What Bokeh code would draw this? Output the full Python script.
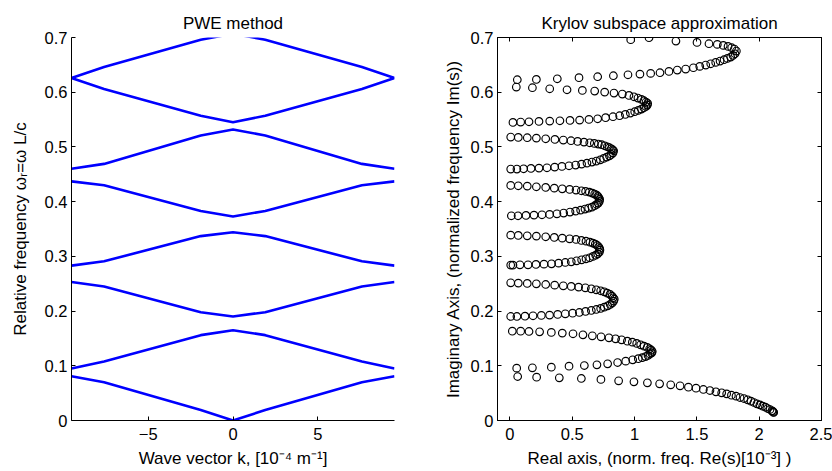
from bokeh.plotting import figure
from bokeh.layouts import row
from bokeh.models import FixedTicker, LinearAxis, Range1d
from bokeh.embed import file_html
from bokeh.resources import INLINE

FONT = "Liberation Sans"

# ---------------- PWE method (left) ----------------
k_vals = [-9.52, -7.6, -1.9, 0.0, 1.9, 7.6, 9.52]
band1 = [0.081, 0.070, 0.019, 0.000, 0.019, 0.070, 0.081]
band2 = [0.095, 0.108, 0.156, 0.165, 0.156, 0.108, 0.095]
band3 = [0.253, 0.245, 0.198, 0.190, 0.198, 0.245, 0.253]
band4 = [0.283, 0.291, 0.337, 0.344, 0.337, 0.291, 0.283]
band5 = [0.437, 0.430, 0.383, 0.373, 0.383, 0.430, 0.437]
band6 = [0.460, 0.469, 0.521, 0.532, 0.521, 0.469, 0.460]
band7 = [0.626, 0.606, 0.557, 0.545, 0.557, 0.606, 0.626]
band8 = [0.626, 0.646, 0.696, 0.707, 0.696, 0.646, 0.626]

left_x_ticks = [-5, 0, 5]
left_x_labels = ["\u22125", "0", "5"]
y_ticks = [0, 0.1, 0.2, 0.3, 0.4, 0.5, 0.6, 0.7]
y_labels = ["0", "0.1", "0.2", "0.3", "0.4", "0.5", "0.6", "0.7"]

# ---------------- Krylov subspace approximation (right) ----------------
kry_re_1 = [0.062, 0.214, 0.396, 0.573, 0.730, 0.872, 0.995, 1.103, 1.201, 1.290, 1.365,
            1.432, 1.493, 1.552, 1.605, 1.653, 1.699, 1.739, 1.777, 1.814, 1.846, 1.878,
            1.908, 1.934, 1.958, 1.982, 2.006, 2.028, 2.050, 2.068, 2.087, 2.103, 2.110,
            2.114, 2.116]
kry_im_1 = [0.0804, 0.0792, 0.0780, 0.0768, 0.0750, 0.0725, 0.0707, 0.0689, 0.0670, 0.0652,
            0.0634, 0.0609, 0.0591, 0.0567, 0.0548, 0.0524, 0.0506, 0.0487, 0.0463, 0.0445,
            0.0420, 0.0402, 0.0378, 0.0353, 0.0329, 0.0305, 0.0286, 0.0262, 0.0244, 0.0219,
            0.0201, 0.0177, 0.0165, 0.0152, 0.0148]

kry_re_2 = [0.019, 0.086, 0.153, 0.238, 0.332, 0.420, 0.506, 0.586, 0.661, 0.731, 0.795,
            0.848, 0.896, 0.942, 0.982, 1.017, 1.049, 1.076, 1.102, 1.121, 1.134, 1.142,
            1.137, 1.124, 1.108, 1.088, 1.062, 1.030, 0.985, 0.929, 0.864, 0.784, 0.698,
            0.597, 0.474, 0.332, 0.180, 0.054]
kry_im_2 = [0.1633, 0.1633, 0.1627, 0.1621, 0.1609, 0.1597, 0.1585, 0.1566, 0.1548, 0.1530,
            0.1511, 0.1493, 0.1475, 0.1450, 0.1432, 0.1408, 0.1383, 0.1359, 0.1335, 0.1310,
            0.1286, 0.1261, 0.1235, 0.1215, 0.1190, 0.1168, 0.1148, 0.1130, 0.1109, 0.1085,
            0.1060, 0.1036, 0.1018, 0.1005, 0.0993, 0.0975, 0.0963, 0.0957]

kry_re_3 = [0.006, 0.067, 0.139, 0.212, 0.287, 0.359, 0.428, 0.492, 0.551, 0.605, 0.653,
            0.693, 0.728, 0.757, 0.781, 0.803, 0.819, 0.829, 0.837,
            0.832, 0.821, 0.805, 0.784, 0.757, 0.728, 0.693, 0.653, 0.607, 0.557, 0.503,
            0.444, 0.383, 0.318, 0.252, 0.185, 0.121, 0.056, 0.006]
kry_im_3 = [0.2517, 0.2511, 0.2505, 0.2498, 0.2486, 0.2474, 0.2462, 0.2450, 0.2438, 0.2425,
            0.2407, 0.2389, 0.2371, 0.2352, 0.2328, 0.2304, 0.2273, 0.2243, 0.2218,
            0.2182, 0.2151, 0.2121, 0.2096, 0.2072, 0.2048, 0.2029, 0.2011, 0.1993, 0.1974,
            0.1962, 0.1950, 0.1938, 0.1926, 0.1920, 0.1914, 0.1907, 0.1901, 0.1901]

kry_re_4 = [0.006, 0.067, 0.139, 0.212, 0.287, 0.356, 0.420, 0.479, 0.530, 0.573, 0.610,
            0.642, 0.666, 0.685, 0.701, 0.712, 0.720, 0.722,
            0.717, 0.704, 0.688, 0.666, 0.640, 0.610, 0.575, 0.535, 0.492, 0.444, 0.391,
            0.334, 0.273, 0.209, 0.145, 0.080, 0.024, 0.006]
kry_im_4 = [0.3388, 0.3382, 0.3376, 0.3370, 0.3358, 0.3346, 0.3333, 0.3321, 0.3309, 0.3291,
            0.3278, 0.3260, 0.3242, 0.3224, 0.3199, 0.3175, 0.3144, 0.3114,
            0.3077, 0.3047, 0.3022, 0.2998, 0.2974, 0.2955, 0.2937, 0.2919, 0.2900, 0.2888,
            0.2876, 0.2864, 0.2858, 0.2852, 0.2846, 0.2846, 0.2840, 0.2840]

kry_re_5 = [0.006, 0.067, 0.139, 0.212, 0.287, 0.356, 0.420, 0.479, 0.530, 0.573, 0.607,
            0.637, 0.661, 0.680, 0.696, 0.706, 0.714, 0.720,
            0.717, 0.709, 0.696, 0.680, 0.658, 0.631, 0.602, 0.567, 0.527, 0.482, 0.431,
            0.377, 0.318, 0.257, 0.193, 0.129, 0.065, 0.011]
kry_im_5 = [0.4296, 0.4290, 0.4284, 0.4272, 0.4260, 0.4247, 0.4235, 0.4223, 0.4211, 0.4199,
            0.4186, 0.4174, 0.4156, 0.4138, 0.4120, 0.4095, 0.4071, 0.4040,
            0.4004, 0.3973, 0.3949, 0.3925, 0.3900, 0.3882, 0.3864, 0.3845, 0.3827, 0.3809,
            0.3791, 0.3778, 0.3766, 0.3760, 0.3754, 0.3748, 0.3742, 0.3742]

kry_re_6 = [0.006, 0.067, 0.139, 0.212, 0.287, 0.361, 0.428, 0.490, 0.543, 0.594, 0.640,
            0.677, 0.709, 0.736, 0.760, 0.781, 0.798, 0.814, 0.824, 0.832,
            0.827, 0.814, 0.798, 0.776, 0.752, 0.725, 0.693, 0.658, 0.618, 0.575, 0.527,
            0.474, 0.417, 0.359, 0.297, 0.233, 0.169, 0.110, 0.056, 0.006]
kry_im_6 = [0.5180, 0.5174, 0.5168, 0.5161, 0.5149, 0.5137, 0.5125, 0.5113, 0.5101, 0.5088,
            0.5076, 0.5064, 0.5052, 0.5040, 0.5021, 0.5003, 0.4985, 0.4966, 0.4948, 0.4930,
            0.4893, 0.4863, 0.4838, 0.4814, 0.4790, 0.4765, 0.4741, 0.4723, 0.4704, 0.4686,
            0.4668, 0.4656, 0.4643, 0.4631, 0.4619, 0.4613, 0.4607, 0.4601, 0.4595, 0.4595]

kry_re_7 = [0.051, 0.180, 0.319, 0.458, 0.581, 0.680, 0.760, 0.835, 0.902, 0.955, 0.995,
            1.027, 1.055, 1.075, 1.092, 1.105, 1.102, 1.092, 1.075, 1.055, 1.030, 1.001,
            0.966, 0.926, 0.880, 0.827, 0.768, 0.704, 0.634, 0.559, 0.482, 0.401, 0.319,
            0.233, 0.153, 0.086, 0.024]
kry_im_7 = [0.6094, 0.6082, 0.6063, 0.6045, 0.6033, 0.6021, 0.6002, 0.5984, 0.5966, 0.5941,
            0.5917, 0.5893, 0.5868, 0.5844, 0.5820, 0.5795, 0.5765, 0.5740, 0.5716, 0.5692,
            0.5667, 0.5643, 0.5619, 0.5594, 0.5570, 0.5552, 0.5534, 0.5515, 0.5503, 0.5490,
            0.5484, 0.5478, 0.5472, 0.5466, 0.5460, 0.5454, 0.5448]

kry_re_8 = [0.059, 0.212, 0.380, 0.554, 0.704, 0.830, 0.947, 1.043, 1.129, 1.204, 1.276,
            1.343, 1.410, 1.472, 1.523, 1.571, 1.611, 1.651, 1.686, 1.718, 1.745, 1.771,
            1.790, 1.806, 1.817, 1.801, 1.779, 1.750, 1.712, 1.664, 1.597, 1.501, 1.332,
            1.116, 0.969]
kry_im_8 = [0.6228, 0.6234, 0.6246, 0.6265, 0.6283, 0.6301, 0.6319, 0.6331, 0.6344, 0.6356,
            0.6380, 0.6405, 0.6423, 0.6447, 0.6472, 0.6496, 0.6520, 0.6545, 0.6569, 0.6594,
            0.6618, 0.6642, 0.6673, 0.6703, 0.6752, 0.6789, 0.6813, 0.6837, 0.6856, 0.6874,
            0.6886, 0.6910, 0.6935, 0.6996, 0.6959]

right_x_ticks = [0, 0.5, 1, 1.5, 2, 2.5]
right_x_labels = ["0", "0.5", "1", "1.5", "2", "2.5"]


def style_axis(ax, ticks, labels, show_labels=True):
    ax.ticker = FixedTicker(ticks=ticks)
    ax.major_tick_in = 4
    ax.major_tick_out = 0
    ax.minor_tick_line_color = None
    ax.axis_line_color = "black"
    ax.axis_line_width = 1
    ax.major_tick_line_color = "black"
    ax.axis_label_text_font = FONT
    ax.axis_label_text_font_size = "17px"
    ax.axis_label_text_font_style = "normal"
    ax.axis_label_text_color = "black"
    ax.major_label_text_font = FONT
    if show_labels:
        ax.major_label_overrides = dict(zip(ticks, labels))
        ax.major_label_text_font_size = "16.5px"
        ax.major_label_text_color = "black"
    else:
        ax.major_label_text_font_size = "0px"
        ax.major_label_text_color = None
        ax.major_label_text_alpha = 0
        ax.major_label_standoff = 0
        ax.axis_label_standoff = 0


def style_title(p, standoff):
    p.title.align = "center"
    p.title.text_font = FONT
    p.title.text_font_size = "17px"
    p.title.text_font_style = "normal"
    p.title.text_color = "black"
    p.title.standoff = standoff


p1 = figure(frame_width=323, frame_height=383,
            x_range=Range1d(-9.52, 9.52), y_range=Range1d(0, 0.7),
            output_backend="svg", toolbar_location=None, title="PWE method",
            min_border_left=71, min_border_right=22, min_border_top=37, min_border_bottom=51)
style_title(p1, 10)
p1.outline_line_color = None
p1.xgrid.visible = False
p1.ygrid.visible = False
p1.background_fill_color = "white"
p1.border_fill_color = "white"

for band in [band1, band2, band3, band4, band5, band6, band7, band8]:
    p1.line(k_vals, band, line_color="#0000ff", line_width=2.6)

style_axis(p1.xaxis[0], left_x_ticks, left_x_labels)
style_axis(p1.yaxis[0], y_ticks, y_labels)
p1.xaxis[0].axis_label = "Wave vector k, [10\u207b\u2074 m\u207b\u00b9]"
p1.yaxis[0].axis_label = "Relative frequency \u03c9\u1d63=\u03c9 L/c"
p1.xaxis[0].major_label_standoff = 7
p1.xaxis[0].axis_label_standoff = 6
p1.yaxis[0].major_label_standoff = 4
p1.yaxis[0].axis_label_standoff = 12

p2 = figure(frame_width=324, frame_height=383,
            x_range=Range1d(-0.1, 2.5), y_range=Range1d(0, 0.7),
            output_backend="svg", toolbar_location=None, title="Krylov subspace approximation",
            min_border_left=81, min_border_right=11, min_border_top=37, min_border_bottom=51)
style_title(p2, 10)
p2.outline_line_color = "black"
p2.xgrid.visible = False
p2.ygrid.visible = False
p2.background_fill_color = "white"
p2.border_fill_color = "white"

branches = [(kry_re_1, kry_im_1), (kry_re_2, kry_im_2), (kry_re_3, kry_im_3),
            (kry_re_4, kry_im_4), (kry_re_5, kry_im_5), (kry_re_6, kry_im_6),
            (kry_re_7, kry_im_7), (kry_re_8, kry_im_8)]
for re_vals, im_vals in branches:
    p2.scatter(re_vals, im_vals, marker="circle", size=7.6, fill_color=None,
               line_color="black", line_width=1.15)

style_axis(p2.xaxis[0], right_x_ticks, right_x_labels)
style_axis(p2.yaxis[0], y_ticks, y_labels)
p2.xaxis[0].axis_label = "Real axis, (norm. freq. Re(s)[10\u207b\u00b3] )"
p2.yaxis[0].axis_label = "Imaginary Axis, (normalized frequency Im(s))"
p2.xaxis[0].major_label_standoff = 7
p2.xaxis[0].axis_label_standoff = 6
p2.yaxis[0].major_label_standoff = 4
p2.yaxis[0].axis_label_standoff = 5

top_axis = LinearAxis()
style_axis(top_axis, right_x_ticks, right_x_labels, show_labels=False)
p2.add_layout(top_axis, "above")
right_axis = LinearAxis()
style_axis(right_axis, y_ticks, y_labels, show_labels=False)
p2.add_layout(right_axis, "right")

layout = row(p1, p2)
open("out.html", "w").write(file_html(layout, INLINE))
